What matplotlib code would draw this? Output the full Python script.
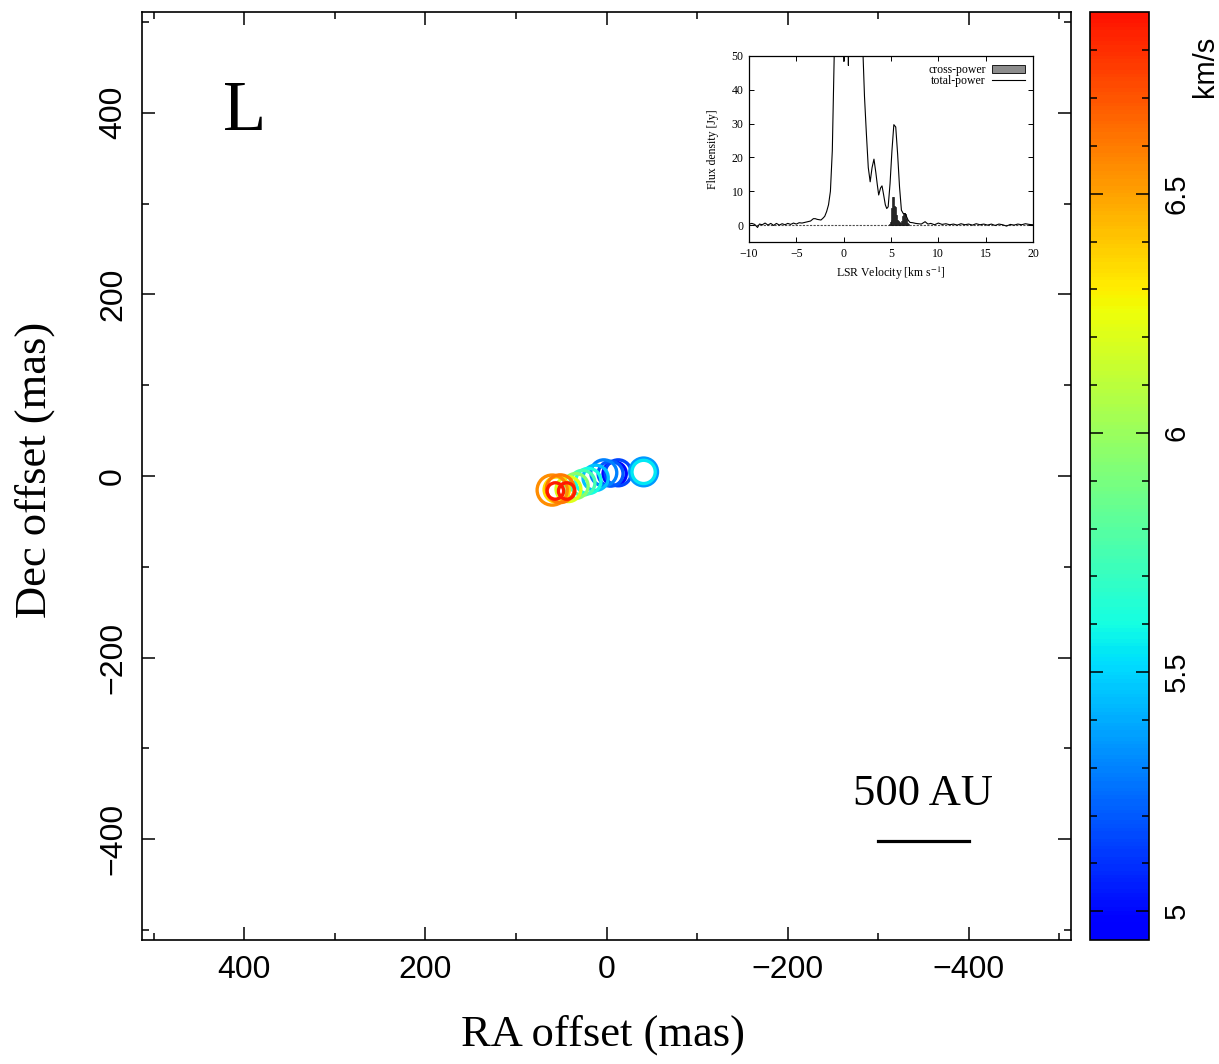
import numpy as np
import matplotlib
matplotlib.use("Agg")
import matplotlib.pyplot as plt
from matplotlib.colors import ListedColormap, Normalize
from matplotlib.cm import ScalarMappable
from matplotlib.ticker import MultipleLocator
from matplotlib.patches import Patch
from matplotlib.lines import Line2D

plt.rcParams['mathtext.fontset'] = 'stix'

# ---------------- data ----------------
# maser spots: RA offset (mas), Dec offset (mas), LSR velocity (km/s), marker area
spot_ra = [60.0, 51.0, 55.0, 42.0, 34.0, 26.5, 20.0, 12.0, 3.0, -4.5, -13.0, -9.0, -41.0, -41.0, 56.5, 44.0]
spot_dec = [-15.5, -14.0, -15.0, -14.5, -11.0, -7.5, -5.5, -2.0, 3.5, 2.5, 3.5, 2.5, 4.5, 4.5, -16.5, -16.5]
spot_vel = [6.55, 6.6, 6.35, 6.2, 5.95, 5.75, 5.6, 5.45, 5.3, 5.2, 5.15, 5.0, 5.35, 5.55, 6.85, 6.85]
spot_size = [470, 400, 330, 320, 320, 320, 330, 330, 350, 320, 350, 280, 400, 280, 140, 140]

# inset spectrum: total power
tp_vel = [-10.0, -9.7, -9.4, -9.1, -8.9, -8.6, -8.3, -8.0, -7.7, -7.4, -7.1, -6.8, -6.5, -6.2,
          -5.9, -5.6, -5.3, -5.0, -4.7, -4.4, -4.1, -3.8, -3.5, -3.2, -3.0, -2.8, -2.6, -2.4,
          -2.2, -2.0, -1.8, -1.6, -1.4, -1.2, -1.0, -0.8, -0.5, -0.2, -0.1, 0.0, 0.1, 0.3,
          0.45, 0.5, 0.55, 0.8, 1.2, 1.6, 1.9, 2.05, 2.2, 2.4, 2.6, 2.8, 3.0, 3.2, 3.4, 3.55,
          3.7, 3.9, 4.05, 4.2, 4.4, 4.55, 4.7, 4.9, 5.1, 5.3, 5.5, 5.7, 5.9, 6.1, 6.3, 6.5,
          6.8, 7.0, 7.3, 7.6, 7.9, 8.2, 8.6, 8.9, 9.2, 9.6, 10.0, 10.4, 10.8, 11.2, 11.6, 12.0,
          12.4, 12.8, 13.2, 13.6, 14.0, 14.4, 14.8, 15.2, 15.6, 16.0, 16.4, 16.8, 17.2, 17.6,
          18.0, 18.4, 18.8, 19.2, 19.6, 20.0]
tp_flux = [0.3, 0.5, 0.2, -0.7, 0.3, 0.1, 0.6, 0.0, 0.5, -0.1, 0.5, 0.0, 0.4, 0.1,
           0.5, 0.2, 0.6, 0.3, 0.7, 0.6, 0.8, 1.0, 1.2, 1.9, 1.9, 1.7, 1.6, 1.5,
           2.0, 2.6, 4.0, 6.0, 10.0, 22.0, 50.0, 80.0, 120.0, 90.0, 70.0, 48.4, 70.0, 75.0,
           65.0, 47.2, 65.0, 120.0, 150.0, 110.0, 70.0, 50.0, 38.0, 27.0, 17.0, 12.8, 17.0, 19.5, 15.5, 12.0,
           8.9, 11.0, 11.6, 9.3, 6.0, 4.9, 5.4, 12.3, 22.0, 29.7, 29.0, 21.0, 11.3, 4.4, 3.4, 3.4,
           1.5, 0.8, 0.7, 0.5, 0.4, 0.3, 1.0, 0.3, 0.5, 0.1, 0.6, 0.2, 0.4, 0.1, 0.3, 0.0,
           0.4, 0.1, 0.3, 0.0, 0.4, 0.1, 0.3, 0.0, 0.3, -0.1, 0.3, 0.1, -0.3, 0.2,
           0.0, 0.3, 0.1, 0.4, 0.2, 0.1]

# inset spectrum: cross power
cp_vel = [4.8, 4.9, 5.0, 5.1, 5.2, 5.3, 5.4, 5.5, 5.6, 5.7, 5.8, 5.9, 6.0,
          6.1, 6.2, 6.3, 6.4, 6.5, 6.6, 6.7, 6.8]
cp_flux = [0.2, 0.8, 1.5, 5.0, 8.4, 8.3, 5.5, 5.4, 3.0, 1.5, 1.2, 0.8, 0.6,
           1.2, 2.6, 3.4, 3.7, 3.2, 1.8, 0.6, 0.2]

xticks_main = [400, 200, 0, -200, -400]
yticks_main = [-400, -200, 0, 200, 400]
cbar_ticks = [5, 5.5, 6, 6.5]
vmin, vmax = 4.94, 6.88

# ---------------- figure ----------------
W, H = 1219, 1064
fig = plt.figure(figsize=(W / 100, H / 100), dpi=100)

def box(l, t, r, b):
    return [l / W, 1 - b / H, (r - l) / W, (b - t) / H]

sans = ['Liberation Sans Narrow', 'Liberation Sans', 'DejaVu Sans']
serif = ['Liberation Serif', 'DejaVu Serif']

cmap = ListedColormap(plt.cm.jet(np.linspace(0.11, 0.89, 256)))
norm = Normalize(vmin=vmin, vmax=vmax)

ax = fig.add_axes(box(142, 12, 1071, 940))
order = np.argsort(spot_vel, kind='stable')
for i in order:
    ax.scatter(spot_ra[i], spot_dec[i], s=spot_size[i], facecolors='none',
               edgecolors=[cmap(norm(spot_vel[i]))], linewidths=2.4, zorder=3)
ax.set_xlim(513, -513)
ax.set_ylim(-511, 511)
ax.set_xticks(xticks_main)
ax.set_yticks(yticks_main)
ax.xaxis.set_minor_locator(MultipleLocator(100))
ax.yaxis.set_minor_locator(MultipleLocator(100))
ax.tick_params(which='both', direction='in', top=True, right=True, width=1.1)
ax.tick_params(which='major', length=9.5)
ax.tick_params(which='minor', length=5)
ax.tick_params(axis='x', pad=11)
ax.tick_params(axis='y', pad=10, labelrotation=90)
for lab in ax.get_xticklabels() + ax.get_yticklabels():
    lab.set_fontfamily(sans)
    lab.set_fontsize(23)
for lab in ax.get_yticklabels():
    lab.set_va('center')
for s in ax.spines.values():
    s.set_linewidth(1.2)

ax.text(400, 400, 'L', fontsize=51, family=serif, ha='center', va='center')
ax.text(-350, -350, '500 AU', fontsize=32, family=serif, ha='center', va='center')
ax.plot([-300, -400], [-402, -402], color='black', lw=2.3)

fig.text(603 / W, 1 - 1035 / H, 'RA offset (mas)', fontsize=32, family=serif,
         ha='center', va='center')
fig.text(35 / W, 1 - 470 / H, 'Dec offset (mas)', fontsize=32, family=serif,
         ha='center', va='center', rotation=90)

# colorbar
cax = fig.add_axes(box(1090, 12, 1149, 940))
cb = fig.colorbar(ScalarMappable(norm=norm, cmap=cmap), cax=cax)
cb.set_ticks(cbar_ticks)
cb.set_ticklabels(['5', '5.5', '6', '6.5'])
cax.yaxis.set_minor_locator(MultipleLocator(0.1))
cax.tick_params(which='both', direction='in', left=True, right=True,
                labelleft=False, labelright=True, width=1.1)
cax.tick_params(which='major', length=9.5, pad=10, labelsize=21, labelrotation=90)
cax.tick_params(which='minor', length=5)
for lab in cax.get_yticklabels():
    lab.set_va('center')
    lab.set_fontfamily(['Liberation Sans', 'DejaVu Sans'])
cb.outline.set_linewidth(1.2)
fig.text(1205 / W, 1 - 66 / H, 'km/s', fontsize=21, family=['Liberation Sans', 'DejaVu Sans'],
         ha='center', va='center', rotation=90)

# inset spectrum
ins = fig.add_axes(box(749, 56, 1033, 242))
ins.axhline(0, color='0.3', lw=0.8, ls=(0, (2, 1.2)), zorder=1)
ins.bar(cp_vel, cp_flux, width=0.1, color='0.5', edgecolor='black', linewidth=0.45, zorder=2)
ins.plot(tp_vel, tp_flux, color='black', lw=0.8, zorder=3)
ins.set_xlim(-10, 20)
ins.set_ylim(-5, 50)
ins.set_xticks([-10, -5, 0, 5, 10, 15, 20])
ins.set_yticks([0, 10, 20, 30, 40, 50])
ins.tick_params(direction='in', top=True, right=True, length=3.5, width=0.7, labelsize=8.5, pad=4)
for lab in ins.get_xticklabels() + ins.get_yticklabels():
    lab.set_fontfamily(serif)
for s in ins.spines.values():
    s.set_linewidth(0.9)
ins.set_xlabel(r'LSR Velocity [km s$^{\mathrm{-1}}$]', fontsize=8.5, family=serif, labelpad=4)
ins.set_ylabel('Flux density [Jy]', fontsize=8.5, family=serif, labelpad=9)
handles = [Patch(facecolor='0.55', edgecolor='black', linewidth=0.6),
           Line2D([0], [0], color='black', lw=0.8)]
leg = ins.legend(handles, ['cross-power', 'total-power'], loc='upper right', frameon=False,
                 markerfirst=False, prop={'family': serif, 'size': 8.5},
                 handlelength=2.8, handleheight=0.6, labelspacing=-0.1,
                 borderaxespad=0.5, borderpad=0.2, handletextpad=0.5)

fig.savefig('out.png', dpi=100)
